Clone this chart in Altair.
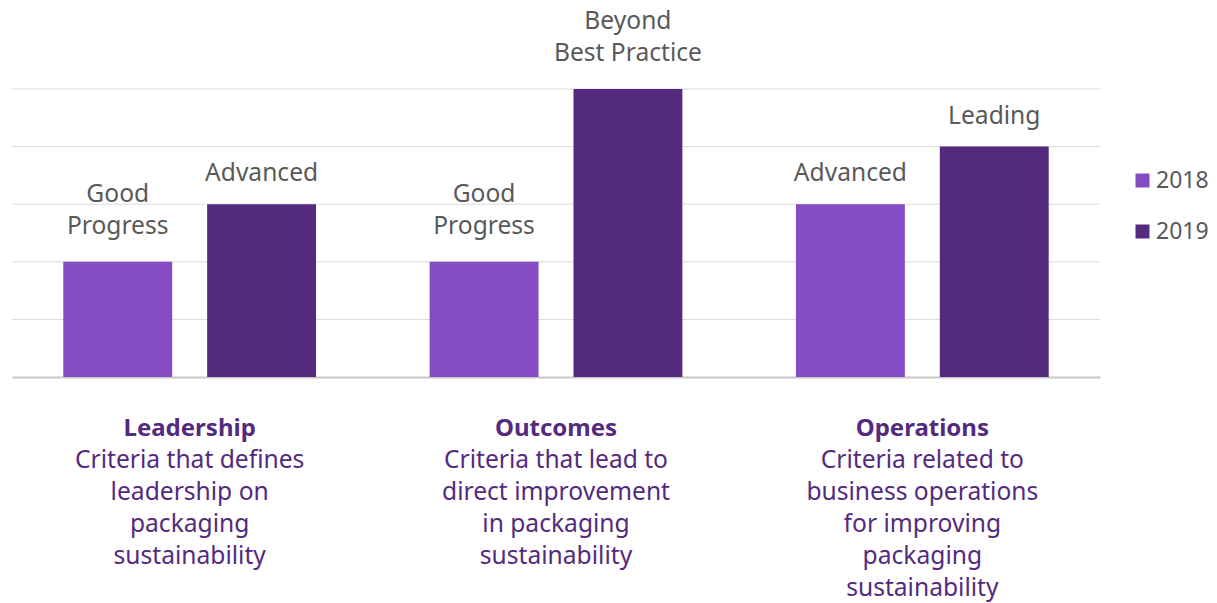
import altair as alt
import pandas as pd

categories = ["Leadership", "Outcomes", "Operations"]
years = ["2018", "2019"]
values_2018 = [2, 2, 3]
values_2019 = [3, 5, 4]
labels_2018 = ["Good\nProgress", "Good\nProgress", "Advanced"]
labels_2019 = ["Advanced", "Beyond\nBest Practice", "Leading"]
descriptions = [
    "Criteria that defines\nleadership on\npackaging\nsustainability",
    "Criteria that lead to\ndirect improvement\nin packaging\nsustainability",
    "Criteria related to\nbusiness operations\nfor improving\npackaging\nsustainability",
]
grid_values = [1, 2, 3, 4, 5]


def split_label(s):
    parts = s.split("\n")
    if len(parts) > 1:
        return "", parts[0], parts[-1]
    return s, "", ""


rows = []
for i, c in enumerate(categories):
    for yr, vals, labs in (("2018", values_2018, labels_2018), ("2019", values_2019, labels_2019)):
        single, l1, l2 = split_label(labs[i])
        rows.append({"category": c, "year": yr, "value": vals[i],
                     "single": single, "line1": l1, "line2": l2})
df = pd.DataFrame(rows)
cat_df = pd.DataFrame({"category": categories, "desc": descriptions})
grid_df = pd.DataFrame({"value": grid_values})

FONT = "Noto Sans"
GRAY = "#595959"
PURPLE_TXT = "#532A7E"
COLORS = ["#844BC2", "#532A7E"]

x = alt.X("category:N", sort=categories,
          scale=alt.Scale(paddingInner=0.31, paddingOuter=0.14),
          axis=alt.Axis(title=None, labels=False, ticks=False, domain=True,
                        domainColor="#C8C8C8", domainWidth=2, grid=False))
xo = alt.XOffset("year:N", sort=years, scale=alt.Scale(paddingInner=0.243, paddingOuter=0))
yscale = alt.Scale(domain=[0, 5], nice=False)
y = alt.Y("value:Q", scale=yscale, axis=None)

grid = alt.Chart(grid_df).mark_rule(color="#D9D9D9", strokeWidth=1).encode(
    y=alt.Y("value:Q", scale=yscale, axis=None)
)

base = alt.Chart(df)

bars = base.mark_bar().encode(
    x=x, xOffset=xo, y=y,
    color=alt.Color("year:N", sort=years,
                    scale=alt.Scale(domain=years, range=COLORS),
                    legend=alt.Legend(title=None, orient="none", legendX=1119, legendY=80,
                                      symbolType="square", symbolSize=196,
                                      symbolStrokeWidth=0,
                                      labelFontSize=23, labelFont=FONT, labelColor=GRAY,
                                      rowPadding=27, labelOffset=2)),
)

txt = dict(font=FONT, fontSize=24.6, color=GRAY, baseline="alphabetic", align="center")
label_single = base.mark_text(dy=-23, **txt).encode(x=x, xOffset=xo, y=y, text="single:N")
label_l2 = base.mark_text(dy=-28, **txt).encode(x=x, xOffset=xo, y=y, text="line2:N")
label_l1 = base.mark_text(dy=-60, **txt).encode(x=x, xOffset=xo, y=y, text="line1:N")

cat_base = alt.Chart(cat_df)
titles = cat_base.mark_text(font=FONT, fontSize=24, fontWeight="bold", color=PURPLE_TXT,
                            baseline="alphabetic", align="center").encode(
    x=x, y=alt.value(347), text="category:N",
)
descs = cat_base.mark_text(font=FONT, fontSize=24.6, color=PURPLE_TXT,
                           baseline="top", lineHeight=32, align="center").encode(
    x=x, y=alt.value(360), text="desc:N",
)

chart = alt.layer(grid, bars, label_single, label_l2, label_l1, titles, descs).properties(
    width=1088, height=288,
    autosize=alt.AutoSizeParams(type="none"),
    padding={"left": 4, "top": 81, "right": 109, "bottom": 226},
).configure_view(stroke=None).configure_text(lineBreak="\n")

chart.save("out.html", embed_options={"renderer": "svg", "actions": False})
